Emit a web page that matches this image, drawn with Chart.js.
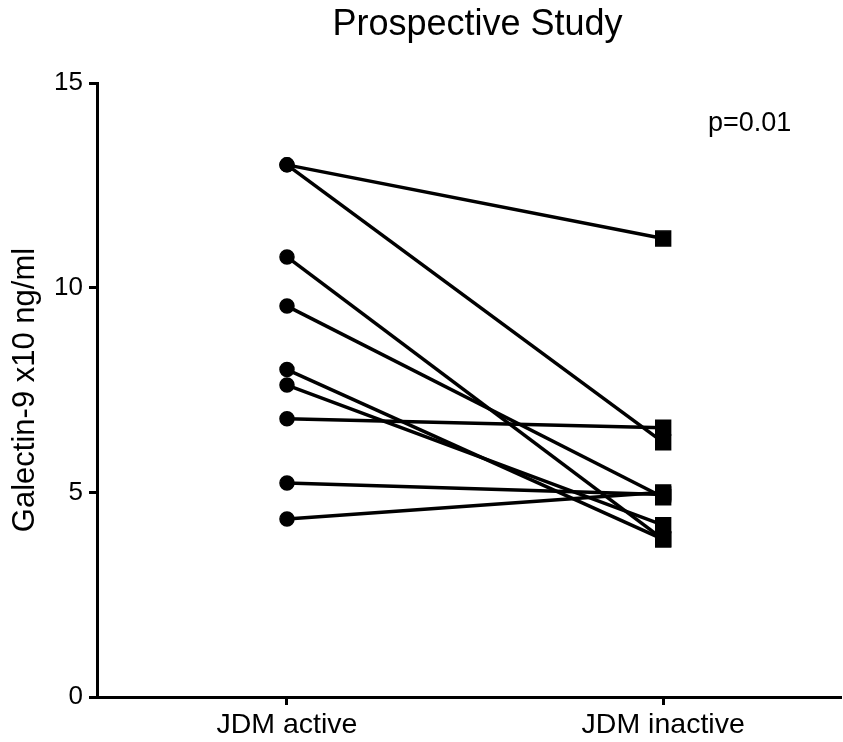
<!DOCTYPE html>
<html>
<head>
<meta charset="utf-8">
<script src="https://cdn.jsdelivr.net/npm/chart.js@4"></script>
<style>
  html, body { margin: 0; padding: 0; background: #fff; }
  #wrap { width: 843px; height: 742px; }
</style>
</head>
<body>
<div id="wrap"><canvas id="c" width="843" height="742"></canvas></div>
<script>
const categories = ['JDM active', 'JDM inactive'];
const activeValues = [13.0, 13.0, 10.75, 9.55, 8.0, 7.62, 6.8, 5.23, 4.35];
const inactiveValues = [11.2, 6.22, 3.85, 4.88, 3.85, 4.2, 6.58, 4.95, 5.0];
const yTicks = [0, 5, 10, 15];
const chartTitle = 'Prospective Study';
const yTitle = 'Galectin-9 x10 ng/ml';
const pValueText = 'p=0.01';

const FONT = "'Liberation Sans', Arial, sans-serif";
Chart.defaults.color = '#000';
Chart.defaults.font.family = FONT;

const datasets = activeValues.map((a, i) => ({
  data: [{ x: 0, y: a }, { x: 1, y: inactiveValues[i] }],
  showLine: true,
  borderColor: '#000',
  backgroundColor: '#000',
  borderWidth: 3.5,
  pointStyle: ['circle', 'rect'],
  pointRadius: [7, 10.5],
  pointBorderWidth: 1.5,
  pointBorderColor: '#000',
  pointBackgroundColor: '#000',
  clip: false
}));

const textPlugin = {
  id: 'textPlugin',
  afterDraw(chart) {
    const ctx = chart.ctx;
    const xs = chart.scales.x, ys = chart.scales.y;
    const area = chart.chartArea;
    ctx.save();
    ctx.fillStyle = '#000';
    ctx.textAlign = 'center';
    ctx.textBaseline = 'middle';
    // title
    ctx.font = "36px " + FONT;
    ctx.fillText(chartTitle, (area.left + area.right) / 2 + 9, 25);
    // p-value annotation
    ctx.font = "27px " + FONT;
    ctx.fillText(pValueText, xs.getPixelForValue(1.23), ys.getPixelForValue(14.0));
    ctx.restore();
  }
};

new Chart(document.getElementById('c'), {
  type: 'scatter',
  data: { datasets },
  plugins: [textPlugin],
  options: {
    responsive: false,
    animation: false,
    layout: { autoPadding: false, padding: { left: 0, right: 3, top: 83, bottom: 0 } },
    plugins: {
      legend: { display: false },
      tooltip: { enabled: false },
      title: { display: false }
    },
    scales: {
      x: {
        type: 'linear',
        min: -0.505,
        max: 1.47,
        afterBuildTicks: s => { s.ticks = categories.map((c, i) => ({ value: i })); },
        afterFit: s => { s.height = 45; },
        ticks: {
          callback: v => categories[v],
          font: { size: 28.5, family: FONT },
          color: '#000',
          padding: 3,
          maxRotation: 0,
          autoSkip: false
        },
        grid: { drawOnChartArea: false, drawTicks: true, tickLength: 8, color: '#000', lineWidth: 3 },
        border: { display: true, color: '#000', width: 3 }
      },
      y: {
        type: 'linear',
        min: 0,
        max: 15,
        afterBuildTicks: s => { s.ticks = yTicks.map(v => ({ value: v })); },
        afterFit: s => { s.width = 97; },
        ticks: {
          font: { size: 26, family: FONT },
          color: '#000',
          padding: 6
        },
        title: {
          display: true,
          text: yTitle,
          color: '#000',
          font: { size: 31, family: FONT },
          padding: { top: 7, bottom: 0 }
        },
        grid: { drawOnChartArea: false, drawTicks: true, tickLength: 8, color: '#000', lineWidth: 3 },
        border: { display: true, color: '#000', width: 3 }
      }
    }
  }
});
</script>
</body>
</html>
